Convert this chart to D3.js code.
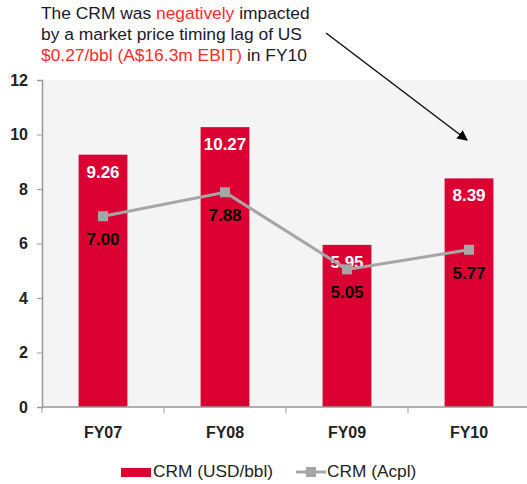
<!DOCTYPE html>
<html lang="en">
<head>
    <meta charset="UTF-8">
    <title>CRM</title>
    <script src="https://d3js.org/d3.v7.min.js"></script>
    <style>
        body, html {
            margin: 0;
            background: #ffffff;
            overflow: hidden;
        }
        svg text {
            font-family: "Liberation Sans", Arial, sans-serif;
        }
    </style>
</head>
<body>
<script>
    // datos
    const categories = ["FY07", "FY08", "FY09", "FY10"];
    const crmUsd = [9.26, 10.27, 5.95, 8.39];
    const crmAcpl = [7.00, 7.88, 5.05, 5.77];
    const yTicks = [0, 2, 4, 6, 8, 10, 12];
    const legendLabels = ["CRM (USD/bbl)", "CRM (Acpl)"];

    const width = 527, height = 484;
    const red = "#dc0032", grey = "#a6a6a6";

    const svg = d3.select("body").append("svg")
        .attr("width", width)
        .attr("height", height);

    const x = d3.scaleBand()
        .domain(categories)
        .range([42, 530])
        .paddingInner(0.6)
        .paddingOuter(0.3);

    const y = d3.scaleLinear()
        .domain([0, 12])
        .range([407, 80]);

    // fondo del area del grafico
    svg.append("rect")
        .attr("x", 42).attr("y", y(12))
        .attr("width", width - 42).attr("height", y(0) - y(12))
        .attr("fill", "#f4f4f4");

    // barras
    svg.selectAll(".bar")
        .data(crmUsd)
        .enter().append("rect")
        .attr("class", "bar")
        .attr("x", (d, i) => x(categories[i]))
        .attr("y", d => y(d))
        .attr("width", x.bandwidth())
        .attr("height", d => y(0) - y(d))
        .attr("fill", red);

    // ejes
    const yAxis = svg.append("g")
        .attr("transform", "translate(42,0)")
        .call(d3.axisLeft(y).tickValues(yTicks).tickSize(5).tickPadding(9).tickFormat(d3.format("d")));
    yAxis.select(".domain").attr("stroke", "#999").attr("stroke-width", 1.5);
    yAxis.selectAll(".tick line").attr("stroke", "#999");
    yAxis.selectAll("text")
        .style("font-size", "16px").style("font-weight", "bold").attr("fill", "#222");

    const xAxis = svg.append("g")
        .attr("transform", `translate(0,${y(0)})`)
        .call(d3.axisBottom(x).tickSize(0).tickPadding(20));
    xAxis.select(".domain").attr("d", `M42,0H${width}`).attr("stroke", "#999").attr("stroke-width", 1.5);
    xAxis.selectAll("text")
        .style("font-size", "16px").style("font-weight", "bold").attr("fill", "#222");
    // marcas entre categorias
    const step = x.step();
    svg.append("g").selectAll("line")
        .data(categories)
        .enter().append("line")
        .attr("x1", d => x(d) + x.bandwidth() / 2 - step / 2)
        .attr("x2", d => x(d) + x.bandwidth() / 2 - step / 2)
        .attr("y1", y(0)).attr("y2", y(0) + 6)
        .attr("stroke", "#999");

    // etiquetas de barras
    svg.selectAll(".barlabel")
        .data(crmUsd)
        .enter().append("text")
        .attr("x", (d, i) => x(categories[i]) + x.bandwidth() / 2)
        .attr("y", d => y(d) + 23)
        .attr("text-anchor", "middle")
        .style("font-size", "17px").style("font-weight", "bold")
        .attr("fill", "#ffffff")
        .text(d => d.toFixed(2));

    // linea
    const line = d3.line()
        .x((d, i) => x(categories[i]) + x.bandwidth() / 2)
        .y(d => y(d));
    svg.append("path")
        .datum(crmAcpl)
        .attr("d", line)
        .attr("fill", "none")
        .attr("stroke", grey)
        .attr("stroke-width", 3);
    svg.selectAll(".marker")
        .data(crmAcpl)
        .enter().append("rect")
        .attr("x", (d, i) => x(categories[i]) + x.bandwidth() / 2 - 5)
        .attr("y", d => y(d) - 5)
        .attr("width", 10).attr("height", 10)
        .attr("fill", grey);
    svg.selectAll(".linelabel")
        .data(crmAcpl)
        .enter().append("text")
        .attr("x", (d, i) => x(categories[i]) + x.bandwidth() / 2)
        .attr("y", d => y(d) + 29)
        .attr("text-anchor", "middle")
        .style("font-size", "17px").style("font-weight", "bold")
        .attr("fill", "#000")
        .text(d => d.toFixed(2));

    // leyenda
    const lg = svg.append("g").attr("transform", "translate(0,477)");
    lg.append("rect").attr("x", 121).attr("y", -9).attr("width", 30).attr("height", 9).attr("fill", red);
    lg.append("text").attr("x", 153).attr("y", 0).style("font-size", "17.3px").attr("fill", "#222").text(legendLabels[0]);
    lg.append("line").attr("x1", 296).attr("x2", 326).attr("y1", -5).attr("y2", -5)
        .attr("stroke", grey).attr("stroke-width", 3);
    lg.append("rect").attr("x", 306).attr("y", -10).attr("width", 10).attr("height", 10).attr("fill", grey);
    lg.append("text").attr("x", 327).attr("y", 0).style("font-size", "17.3px").attr("fill", "#222").text(legendLabels[1]);

    // nota
    const noteRed = "#ff2a2a", noteDark = "#1a1a2a";
    const note = svg.append("text")
        .attr("x", 41)
        .style("font-size", "17.4px")
        .attr("fill", noteDark);
    const l1 = note.append("tspan").attr("x", 41).attr("y", 19);
    l1.append("tspan").text("The CRM was ");
    l1.append("tspan").attr("fill", noteRed).text("negatively");
    l1.append("tspan").text(" impacted");
    note.append("tspan").attr("x", 41).attr("y", 40).text("by a market price timing lag of US");
    const l3 = note.append("tspan").attr("x", 41).attr("y", 61);
    l3.append("tspan").attr("fill", noteRed).text("$0.27/bbl (A$16.3m EBIT)");
    l3.append("tspan").text(" in FY10");

    // flecha
    svg.append("defs").append("marker")
        .attr("id", "arrow")
        .attr("viewBox", "0 0 10 10")
        .attr("refX", 9).attr("refY", 5)
        .attr("markerWidth", 7).attr("markerHeight", 7)
        .attr("orient", "auto")
        .append("path").attr("d", "M0,0L10,5L0,10z").attr("fill", "#000");
    svg.append("line")
        .attr("x1", 326).attr("y1", 33)
        .attr("x2", 467).attr("y2", 140)
        .attr("stroke", "#111").attr("stroke-width", 1.5)
        .attr("marker-end", "url(#arrow)");
</script>
</body>
</html>
